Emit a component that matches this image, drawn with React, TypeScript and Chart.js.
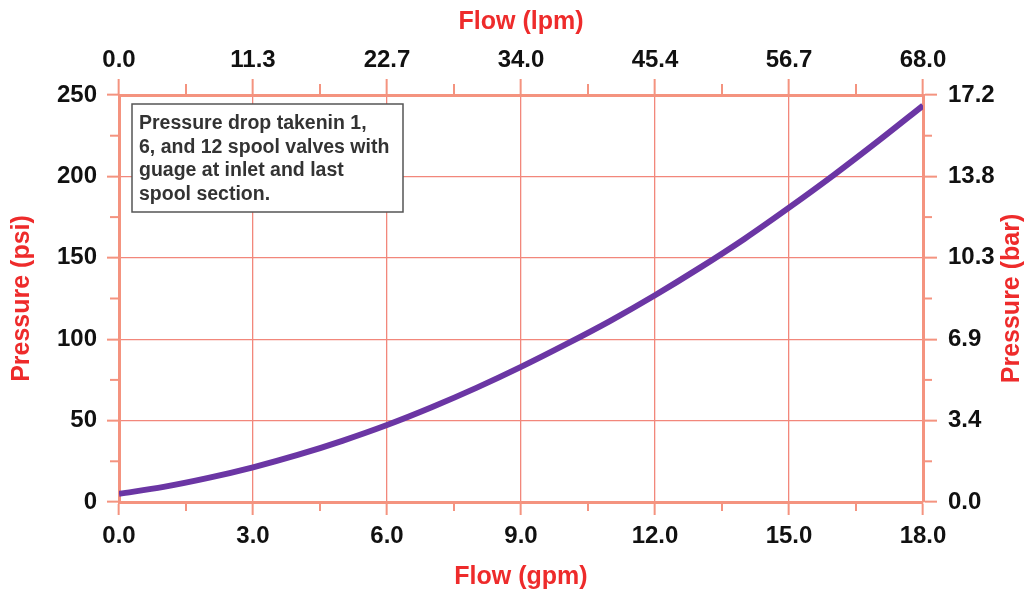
import { useEffect, useRef } from "react";
import { Chart, registerables } from "chart.js";

Chart.register(...registerables);

// ---- Data ----
const flowGpm = [0, 1, 2, 3, 4, 5, 6, 7, 8, 9, 10, 11, 12, 13, 14, 15, 16, 17, 18];
const pressurePsi = [5, 9.3, 14.8, 21.3, 28.9, 37.6, 47.3, 58.2, 70.1, 83, 96.8, 111.3, 127, 143.8, 161.6, 180.8, 200.8, 221.8, 243.5];

const gpmTickLabels = ["0.0", "3.0", "6.0", "9.0", "12.0", "15.0", "18.0"];
const lpmTickLabels = ["0.0", "11.3", "22.7", "34.0", "45.4", "56.7", "68.0"];
const psiTickLabels = ["0", "50", "100", "150", "200", "250"];
const barTickLabels = ["0.0", "3.4", "6.9", "10.3", "13.8", "17.2"];

const noteLines = [
  "Pressure drop takenin 1,",
  "6, and 12 spool valves with",
  "guage at inlet and last",
  "spool section.",
];

const titleBottom = "Flow (gpm)";
const titleTop = "Flow (lpm)";
const titleLeft = "Pressure (psi)";
const titleRight = "Pressure (bar)";

// ---- Styles ----
const FONT = '"Liberation Sans", Arial, sans-serif';
const RED = "#ee2b2b";
const GRID = "#f2877b";
const AXIS = "#f4937f";
const LINE = "#6b36a4";
const CLEAR = "rgba(0,0,0,0)";

const tickFont = { family: FONT, size: 24, weight: "bold" as const };
const titleFont = { family: FONT, size: 25, weight: "bold" as const, lineHeight: 1 };

function isMajor(value: number, step: number) {
  return Math.round(value / step) % 2 === 0;
}

function majorLabel(labels: string[], value: number, step: number) {
  const i = Math.round(value / step);
  return i % 2 === 0 ? labels[i / 2] ?? "" : "";
}

const MINOR_LEN = 9;

const extrasPlugin = {
  id: "extras",
  afterDraw(chart: any) {
    const { ctx, chartArea } = chart;

    // minor tick marks (shorter than major ones)
    ctx.save();
    ctx.strokeStyle = AXIS;
    ctx.lineWidth = 2;
    const steps: Record<string, number> = { x: 1.5, x2: 1.5, y: 25, y2: 25 };
    Object.keys(steps).forEach((id) => {
      const sc = chart.scales[id];
      if (!sc) return;
      sc.ticks.forEach((t: any) => {
        if (isMajor(t.value, steps[id])) return;
        const p = sc.getPixelForValue(t.value);
        ctx.beginPath();
        if (sc.position === "bottom") {
          ctx.moveTo(p, chartArea.bottom);
          ctx.lineTo(p, chartArea.bottom + MINOR_LEN);
        } else if (sc.position === "top") {
          ctx.moveTo(p, chartArea.top);
          ctx.lineTo(p, chartArea.top - MINOR_LEN - 2);
        } else if (sc.position === "left") {
          ctx.moveTo(chartArea.left, p);
          ctx.lineTo(chartArea.left - MINOR_LEN, p);
        } else {
          ctx.moveTo(chartArea.right, p);
          ctx.lineTo(chartArea.right + MINOR_LEN, p);
        }
        ctx.stroke();
      });
    });
    ctx.restore();

    // right axis title (reads bottom-to-top)
    ctx.save();
    ctx.translate(chart.width - 15, (chartArea.top + chartArea.bottom) / 2);
    ctx.rotate(-Math.PI / 2);
    ctx.font = `bold 25px ${FONT}`;
    ctx.fillStyle = RED;
    ctx.textAlign = "center";
    ctx.textBaseline = "middle";
    ctx.fillText(titleRight, 0, 0);
    ctx.restore();

    // note box
    ctx.save();
    const bx = chartArea.left + 13;
    const by = chartArea.top + 9;
    const bw = 271;
    const bh = 108;
    ctx.fillStyle = "#ffffff";
    ctx.fillRect(bx, by, bw, bh);
    ctx.strokeStyle = "#555555";
    ctx.lineWidth = 1.5;
    ctx.strokeRect(bx, by, bw, bh);
    ctx.font = `bold 19.5px ${FONT}`;
    ctx.fillStyle = "#333333";
    ctx.textAlign = "left";
    ctx.textBaseline = "alphabetic";
    noteLines.forEach((t, i) => {
      ctx.fillText(t, bx + 7, by + 25 + i * 23.5);
    });
    ctx.restore();
  },
};

export default function App() {
  const ref = useRef<HTMLCanvasElement | null>(null);

  useEffect(() => {
    if (!ref.current) return;
    const data = flowGpm.map((x, i) => ({ x, y: pressurePsi[i] }));
    const majorGrid = (step: number) => (c: any) => {
      const v = c.tick ? c.tick.value : 0;
      return isMajor(v, step) ? GRID : CLEAR;
    };
    const majorTick = (step: number) => (c: any) => {
      const v = c.tick ? c.tick.value : 0;
      return isMajor(v, step) ? AXIS : CLEAR;
    };
    const chart = new Chart(ref.current, {
      type: "line",
      data: {
        datasets: [
          {
            data,
            xAxisID: "x",
            yAxisID: "y",
            borderColor: LINE,
            borderWidth: 6,
            pointRadius: 0,
            cubicInterpolationMode: "monotone",
            fill: false,
          },
        ],
      },
      options: {
        animation: false,
        responsive: false,
        maintainAspectRatio: false,
        layout: { padding: 0 },
        plugins: { legend: { display: false }, tooltip: { enabled: false } },
        scales: {
          x: {
            type: "linear",
            position: "bottom",
            min: 0,
            max: 18,
            afterFit: (s: any) => {
              s.height = 88;
            },
            ticks: {
              stepSize: 1.5,
              autoSkip: false,
              maxRotation: 0,
              color: "#111",
              font: tickFont,
              padding: 7,
              callback: (v: any) => majorLabel(gpmTickLabels, Number(v), 1.5),
            },
            grid: { color: majorGrid(1.5), lineWidth: 1.3, tickColor: majorTick(1.5), tickWidth: 2, tickLength: 13 },
            border: { color: AXIS, width: 3 },
            title: { display: true, text: titleBottom, color: RED, font: titleFont, padding: { top: 0, bottom: 0.5 } },
          },
          x2: {
            type: "linear",
            position: "top",
            min: 0,
            max: 18,
            afterFit: (s: any) => {
              s.height = 95;
            },
            ticks: {
              stepSize: 1.5,
              autoSkip: false,
              maxRotation: 0,
              color: "#111",
              font: tickFont,
              padding: 4,
              callback: (v: any) => majorLabel(lpmTickLabels, Number(v), 1.5),
            },
            grid: { color: majorGrid(1.5), lineWidth: 1.3, drawOnChartArea: false, tickColor: majorTick(1.5), tickWidth: 2, tickLength: 16 },
            border: { color: AXIS, width: 3 },
            title: { display: true, text: titleTop, color: RED, font: titleFont, padding: { top: 9.5, bottom: 0 } },
          },
          y: {
            type: "linear",
            position: "left",
            min: 0,
            max: 250,
            afterFit: (s: any) => {
              s.width = 119;
            },
            ticks: {
              stepSize: 25,
              autoSkip: false,
              color: "#111",
              font: tickFont,
              padding: 10,
              callback: (v: any) => majorLabel(psiTickLabels, Number(v), 25),
            },
            grid: { color: majorGrid(25), lineWidth: 1.3, tickColor: majorTick(25), tickWidth: 2, tickLength: 12 },
            border: { color: AXIS, width: 3 },
            title: { display: true, text: titleLeft, color: RED, font: titleFont, padding: { top: 9.5, bottom: 0 } },
          },
          y2: {
            type: "linear",
            position: "right",
            min: 0,
            max: 250,
            afterFit: (s: any) => {
              s.width = 104;
            },
            ticks: {
              stepSize: 25,
              autoSkip: false,
              color: "#111",
              font: tickFont,
              padding: 11,
              callback: (v: any) => majorLabel(barTickLabels, Number(v), 25),
            },
            grid: { color: majorGrid(25), lineWidth: 1.3, drawOnChartArea: false, tickColor: majorTick(25), tickWidth: 2, tickLength: 14 },
            border: { color: AXIS, width: 3 },
          },
        },
      } as any,
      plugins: [extrasPlugin],
    });
    return () => chart.destroy();
  }, []);

  return (
    <canvas
      ref={ref}
      width={1027}
      height={590}
      style={{ position: "fixed", left: 0, top: 0, width: 1027, height: 590, display: "block", background: "#fff" }}
    />
  );
}
